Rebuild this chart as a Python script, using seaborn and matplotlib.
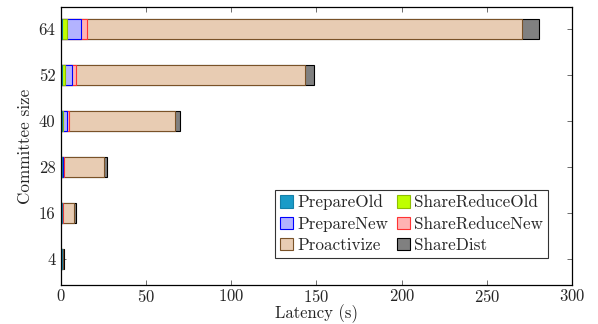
import numpy as np
import pandas as pd
import matplotlib
matplotlib.use("Agg")
import matplotlib.pyplot as plt
from matplotlib.patches import Patch
import seaborn as sns

# Committee sizes and per-phase latency (seconds)
sizes = ["64", "52", "40", "28", "16", "4"]
prepare_old = [0.3, 0.3, 0.3, 0.4, 0.4, 0.4]
share_reduce_old = [3.4, 1.9, 0.8, 0.2, 0.1, 0.1]
prepare_new = [8.0, 4.5, 2.2, 0.6, 0.3, 0.2]
share_reduce_new = [3.7, 2.1, 1.2, 0.4, 0.2, 0.1]
proactivize = [255.2, 134.5, 62.4, 23.5, 6.8, 0.6]
share_dist = [10.0, 5.3, 2.9, 1.8, 1.2, 0.3]

phases = ["PrepareOld", "ShareReduceOld", "PrepareNew",
          "ShareReduceNew", "Proactivize", "ShareDist"]
series = [prepare_old, share_reduce_old, prepare_new,
          share_reduce_new, proactivize, share_dist]
fills = ["#1a9bc8", "#bfff00", "#b3b3ff", "#ffb3b3", "#e8ccb3", "#808080"]
edges = ["#1480a8", "#8fbf00", "#0000ff", "#ff3333", "#7a5228", "#000000"]

df = pd.DataFrame({"size": sizes})
for name, vals in zip(phases, series):
    df[name] = vals
cum = df[phases].cumsum(axis=1)
for name in phases:
    df["cum_" + name] = cum[name]

sns.set_style("ticks")
plt.rcParams["font.family"] = ["cmr10", "DejaVu Serif"]
plt.rcParams["axes.formatter.use_mathtext"] = True
plt.rcParams["mathtext.fontset"] = "cm"

fig = plt.figure(figsize=(5.98, 3.24), dpi=100)
ax = fig.add_axes([0.102, 0.12, 0.8545, 0.858])

# Stacked horizontal bars: draw cumulative totals from the outermost layer inward
for name, fc, ec in reversed(list(zip(phases, fills, edges))):
    sns.barplot(data=df, x="cum_" + name, y="size", order=sizes,
                color=fc, edgecolor=ec, linewidth=0.8, width=0.435,
                saturation=1, ax=ax)

ax.set_xlim(0, 300)
ax.set_xticks([0, 50, 100, 150, 200, 250, 300])
ax.set_ylim(5.565, -0.478)
ax.set_xlabel("Latency (s)", fontsize=12, labelpad=-0.5)
ax.set_ylabel("Committee size", fontsize=12.3, labelpad=4)
ax.tick_params(axis="both", direction="in", length=3.5, width=0.6,
               color="#555555", labelsize=12, top=True, right=True, pad=4)
ax.tick_params(axis="x", pad=2)
for sp in ax.spines.values():
    sp.set_visible(True)
    sp.set_linewidth(0.9)
    sp.set_color("black")

handles = {n: Patch(facecolor=f, edgecolor=e, linewidth=0.8)
           for n, f, e in zip(phases, fills, edges)}
order = ["PrepareOld", "PrepareNew", "Proactivize",
         "ShareReduceOld", "ShareReduceNew", "ShareDist"]
leg = ax.legend([handles[n] for n in order], order, ncol=2,
                loc="lower right", bbox_to_anchor=(0.953, 0.097),
                borderaxespad=0, fontsize=12.3, frameon=True, fancybox=False,
                edgecolor="black", handlelength=0.75, handleheight=0.75,
                handletextpad=0.25, columnspacing=0.5, labelspacing=0.35,
                borderpad=0.3)
leg.get_frame().set_linewidth(0.8)

fig.savefig("out.png", dpi=100)
